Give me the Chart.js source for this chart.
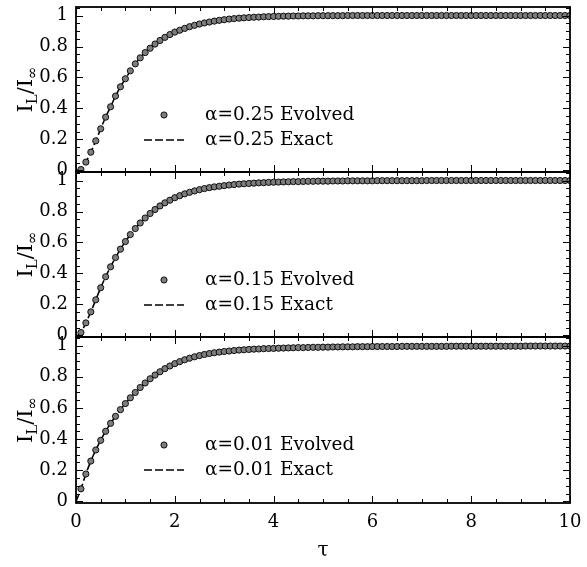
<!DOCTYPE html>
<html lang="en">
<head>
<meta charset="UTF-8">
<title>Evolved vs exact current</title>
<script src="https://cdn.jsdelivr.net/npm/chart.js@4.4.0/dist/chart.umd.min.js"></script>
<style>
  body { margin: 0; background: #fff; }
  #wrap { position: relative; width: 587px; height: 567px; }
  #wrap canvas { position: absolute; left: 0; }
</style>
</head>
<body>
<div id="wrap">
  <canvas id="c1" width="587" height="180" style="top:0px"></canvas>
  <canvas id="c2" width="587" height="181" style="top:164px"></canvas>
  <canvas id="c3" width="587" height="238" style="top:329px"></canvas>
</div>
<script>
// time grid of the evolved points
const tau = [
  0.1, 0.2, 0.3, 0.4, 0.5, 0.6, 0.7, 0.8, 0.9, 1.0,
  1.1, 1.2, 1.3, 1.4, 1.5, 1.6, 1.7, 1.8, 1.9, 2.0,
  2.1, 2.2, 2.3, 2.4, 2.5, 2.6, 2.7, 2.8, 2.9, 3.0,
  3.1, 3.2, 3.3, 3.4, 3.5, 3.6, 3.7, 3.8, 3.9, 4.0,
  4.1, 4.2, 4.3, 4.4, 4.5, 4.6, 4.7, 4.8, 4.9, 5.0,
  5.1, 5.2, 5.3, 5.4, 5.5, 5.6, 5.7, 5.8, 5.9, 6.0,
  6.1, 6.2, 6.3, 6.4, 6.5, 6.6, 6.7, 6.8, 6.9, 7.0,
  7.1, 7.2, 7.3, 7.4, 7.5, 7.6, 7.7, 7.8, 7.9, 8.0,
  8.1, 8.2, 8.3, 8.4, 8.5, 8.6, 8.7, 8.8, 8.9, 9.0,
  9.1, 9.2, 9.3, 9.4, 9.5, 9.6, 9.7, 9.8, 9.9, 10.0
];

const evolved025 = [
  0.006, 0.054, 0.118, 0.191, 0.269, 0.344, 0.411, 0.480, 0.540, 0.592,
  0.643, 0.688, 0.727, 0.761, 0.789, 0.816, 0.839, 0.859, 0.877, 0.893,
  0.905, 0.917, 0.928, 0.937, 0.945, 0.952, 0.958, 0.964, 0.969, 0.973,
  0.977, 0.980, 0.983, 0.985, 0.987, 0.989, 0.990, 0.992, 0.993, 0.994,
  0.995, 0.996, 0.996, 0.997, 0.997, 0.998, 0.998, 0.998, 0.999, 0.999,
  0.999, 0.999, 0.999, 0.999, 1, 1, 1, 1, 1, 1,
  1, 1, 1, 1, 1, 1, 1, 1, 1, 1,
  1, 1, 1, 1, 1, 1, 1, 1, 1, 1,
  1, 1, 1, 1, 1, 1, 1, 1, 1, 1,
  1, 1, 1, 1, 1, 1, 1, 1, 1, 1
];

const evolved015 = [
  0.019, 0.081, 0.152, 0.230, 0.308, 0.379, 0.443, 0.503, 0.557, 0.606,
  0.651, 0.690, 0.726, 0.758, 0.787, 0.813, 0.836, 0.856, 0.873, 0.889,
  0.902, 0.914, 0.924, 0.933, 0.941, 0.948, 0.954, 0.959, 0.963, 0.967,
  0.971, 0.974, 0.977, 0.979, 0.981, 0.983, 0.985, 0.986, 0.988, 0.989,
  0.990, 0.991, 0.992, 0.993, 0.993, 0.994, 0.995, 0.995, 0.996, 0.996,
  0.996, 0.997, 0.997, 0.997, 0.998, 0.998, 0.998, 0.998, 0.998, 0.998,
  0.999, 0.999, 0.999, 0.999, 0.999, 0.999, 0.999, 0.999, 0.999, 0.999,
  1, 1, 1, 1, 1, 1, 1, 1, 1, 1,
  1, 1, 1, 1, 1, 1, 1, 1, 1, 1,
  1, 1, 1, 1, 1, 1, 1, 1, 1, 1
];

const evolved001 = [
  0.081, 0.176, 0.259, 0.330, 0.392, 0.450, 0.501, 0.546, 0.589, 0.628,
  0.665, 0.699, 0.731, 0.760, 0.787, 0.811, 0.832, 0.852, 0.869, 0.884,
  0.897, 0.909, 0.919, 0.928, 0.936, 0.943, 0.949, 0.954, 0.958, 0.962,
  0.965, 0.968, 0.971, 0.973, 0.975, 0.977, 0.978, 0.980, 0.981, 0.982,
  0.983, 0.984, 0.985, 0.986, 0.987, 0.987, 0.988, 0.989, 0.989, 0.990,
  0.990, 0.991, 0.991, 0.992, 0.992, 0.992, 0.993, 0.993, 0.993, 0.994,
  0.994, 0.994, 0.994, 0.994, 0.994, 0.995, 0.995, 0.995, 0.995, 0.995,
  0.995, 0.995, 0.995, 0.995, 0.995, 0.996, 0.996, 0.996, 0.996, 0.996,
  0.996, 0.996, 0.996, 0.996, 0.996, 0.996, 0.996, 0.996, 0.996, 0.996,
  0.997, 0.997, 0.997, 0.997, 0.997, 0.997, 0.997, 0.997, 0.997, 0.997
];

// exact curves, read on a coarser grid
const tauExact = [0, 0.05, 0.1, 0.2, 0.3, 0.4, 0.5, 0.6, 0.7, 0.8, 0.9, 1.0, 1.2, 1.4,
  1.6, 1.8, 2.0, 2.3, 2.6, 3.0, 3.5, 4.0, 4.5, 5.0, 6.0, 7.0, 8.0, 10.0];
const exact025 = [0, 0.001, 0.006, 0.054, 0.118, 0.191, 0.269, 0.344, 0.411, 0.480, 0.540, 0.592, 0.688, 0.761,
  0.816, 0.859, 0.893, 0.928, 0.952, 0.973, 0.987, 0.994, 0.997, 0.999, 1, 1, 1, 1];
const exact015 = [0, 0.004, 0.019, 0.081, 0.152, 0.230, 0.308, 0.379, 0.443, 0.503, 0.557, 0.606, 0.690, 0.758,
  0.813, 0.856, 0.889, 0.924, 0.948, 0.967, 0.981, 0.989, 0.993, 0.996, 0.998, 0.999, 1, 1];
const exact001 = [0, 0.040, 0.081, 0.176, 0.259, 0.330, 0.392, 0.450, 0.501, 0.546, 0.589, 0.628, 0.699, 0.760,
  0.811, 0.852, 0.884, 0.919, 0.943, 0.962, 0.975, 0.982, 0.987, 0.990, 0.994, 0.995, 0.996, 0.997];

const alphas = ['0.25', '0.15', '0.01'];
const yTicks = [0, 0.2, 0.4, 0.6, 0.8, 1];

const FONT = "'DejaVu Serif', serif";

// inward ticks on all four sides + frame
const frameTicks = {
  id: 'frameTicks',
  afterDatasetsDraw(chart) {
    const { ctx, chartArea: a, scales: { x, y } } = chart;
    ctx.save();
    ctx.strokeStyle = '#000';
    ctx.lineWidth = 1;
    for (let i = 0; i <= 20; i++) {
      const v = i * 0.5;
      const px = Math.round(x.getPixelForValue(v)) + 0.5;
      const len = (i % 4 === 0) ? 7 : 4;
      ctx.beginPath();
      ctx.moveTo(px, a.bottom); ctx.lineTo(px, a.bottom - len);
      ctx.moveTo(px, a.top); ctx.lineTo(px, a.top + len);
      ctx.stroke();
    }
    for (let i = 0; i <= 21; i++) {
      const v = i * 0.05;
      const py = Math.round(y.getPixelForValue(v)) + 0.5;
      const len = (i % 4 === 0) ? 7 : 4;
      ctx.beginPath();
      ctx.moveTo(a.left, py); ctx.lineTo(a.left + len, py);
      ctx.moveTo(a.right, py); ctx.lineTo(a.right - len, py);
      ctx.stroke();
    }
    ctx.lineWidth = 1.8;
    ctx.strokeRect(a.left, a.top, a.right - a.left, a.bottom - a.top);
    ctx.restore();
  }
};

// legend inside the panel and the I_L/I_inf axis label
const panelText = {
  id: 'panelText',
  afterDraw(chart) {
    const { ctx, chartArea: a } = chart;
    const ds = chart.data.datasets;
    ctx.save();
    const lx = a.left + 88, ty = a.top + 108, tx = a.left + 129;
    // marker
    ctx.beginPath();
    ctx.arc(lx, ty, ds[0].pointRadius, 0, Math.PI * 2);
    ctx.fillStyle = ds[0].pointBackgroundColor;
    ctx.fill();
    ctx.lineWidth = ds[0].pointBorderWidth;
    ctx.strokeStyle = ds[0].pointBorderColor;
    ctx.stroke();
    // dashed line
    ctx.beginPath();
    ctx.setLineDash(ds[1].borderDash);
    ctx.lineWidth = ds[1].borderWidth;
    ctx.strokeStyle = ds[1].borderColor;
    ctx.moveTo(lx - 20, ty + 25); ctx.lineTo(lx + 20, ty + 25);
    ctx.stroke();
    ctx.setLineDash([]);
    ctx.fillStyle = '#000';
    ctx.font = '18.5px ' + FONT;
    ctx.textBaseline = 'middle';
    ctx.fillText(ds[0].label, tx, ty);
    ctx.fillText(ds[1].label, tx, ty + 25);

    // rotated y label with subscripts
    const big = '21px ' + FONT, small = '15px ' + FONT;
    const parts = [['I', big, 0], ['L', small, 5], ['/I', big, 0], ['\u221E', small, 5]];
    let w = 0;
    parts.forEach(p => { ctx.font = p[1]; w += ctx.measureText(p[0]).width; });
    ctx.translate(32, (a.top + a.bottom) / 2);
    ctx.rotate(-Math.PI / 2);
    ctx.textBaseline = 'alphabetic';
    let cx = -w / 2;
    parts.forEach(p => {
      ctx.font = p[1];
      ctx.fillText(p[0], cx, p[2]);
      cx += ctx.measureText(p[0]).width;
    });
    ctx.restore();
  }
};

const noPad = s => { s.paddingTop = 0; s.paddingBottom = 0; s.paddingLeft = 0; s.paddingRight = 0; };

function makePanel(id, alpha, evolved, exact, bottom) {
  const ptsEvolved = tau.map((t, i) => ({ x: t, y: evolved[i] }));
  const ptsExact = tauExact.map((t, i) => ({ x: t, y: exact[i] }));
  return new Chart(document.getElementById(id), {
    type: 'line',
    data: {
      datasets: [
        {
          label: '\u03B1=' + alpha + ' Evolved',
          data: ptsEvolved,
          showLine: false,
          pointRadius: 3.1,
          pointBackgroundColor: '#7d7d7d',
          pointBorderColor: '#000',
          pointBorderWidth: 0.9,
          order: 0
        },
        {
          label: '\u03B1=' + alpha + ' Exact',
          data: ptsExact,
          borderColor: '#000',
          borderWidth: 1.6,
          borderDash: [8, 3],
          pointRadius: 0,
          cubicInterpolationMode: 'monotone',
          order: 1
        }
      ]
    },
    options: {
      responsive: false,
      animation: false,
      events: [],
      layout: { padding: { top: id === 'c1' ? 7 : 8, bottom: bottom ? 0 : 8, left: 0, right: 17 } },
      plugins: { legend: { display: false }, tooltip: { enabled: false } },
      scales: {
        x: {
          type: 'linear',
          min: 0, max: 10,
          display: bottom,
          grid: { display: false, drawTicks: false },
          border: { display: false },
          ticks: { stepSize: 2, padding: 9, color: '#000', font: { family: FONT, size: 18 } },
          title: { display: bottom, text: '\u03C4', color: '#000', font: { family: FONT, size: 20 }, padding: { top: 2, bottom: 4 } },
          afterFit: s => { noPad(s); if (bottom) s.height = 64; }
        },
        y: {
          type: 'linear',
          min: -0.01, max: 1.055,
          grid: { display: false, drawTicks: false },
          border: { display: false },
          afterBuildTicks: s => { s.ticks = yTicks.map(v => ({ value: v })); },
          ticks: {
            padding: 8, color: '#000', font: { family: FONT, size: 18 },
            callback: v => String(+v.toFixed(1))
          },
          afterFit: s => { noPad(s); s.width = 76; }
        }
      }
    },
    plugins: [frameTicks, panelText]
  });
}

makePanel('c1', alphas[0], evolved025, exact025, false);
makePanel('c2', alphas[1], evolved015, exact015, false);
makePanel('c3', alphas[2], evolved001, exact001, true);
</script>
</body>
</html>
